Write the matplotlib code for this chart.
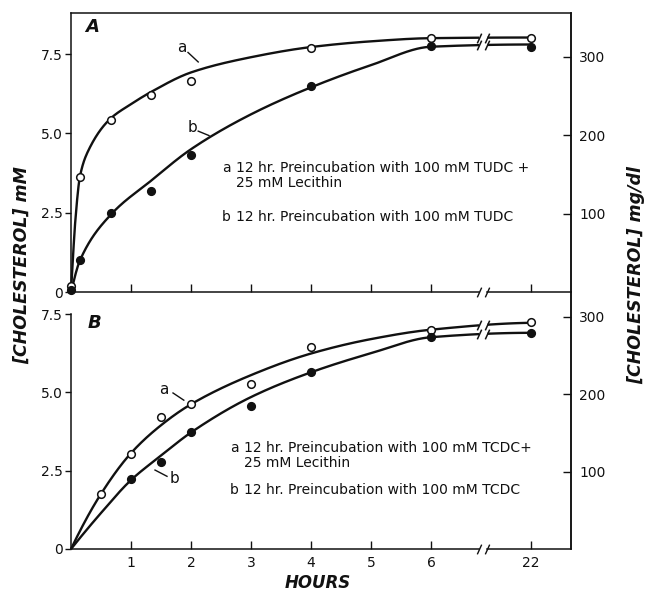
import numpy as np
import matplotlib
matplotlib.use("Agg")
import matplotlib.pyplot as plt
from matplotlib.transforms import blended_transform_factory

# ---------------- data ----------------
# Panel A: preincubation with TUDC (a: + lecithin, b: TUDC alone)
hours_A = [0, 0.15, 0.67, 1.33, 2, 4, 6, 22]
chol_A_a = [0.2, 3.63, 5.43, 6.21, 6.66, 7.70, 8.00, 8.00]
chol_A_b = [0.05, 1.00, 2.50, 3.18, 4.31, 6.49, 7.75, 7.73]

# Panel B: preincubation with TCDC (a: + lecithin, b: TCDC alone)
hours_B_a = [0.5, 1, 1.5, 2, 3, 4, 6, 22]
chol_B_a = [1.76, 3.04, 4.20, 4.62, 5.26, 6.44, 6.99, 7.24]
hours_B_b = [1, 1.5, 2, 3, 4, 6, 22]
chol_B_b = [2.24, 2.79, 3.72, 4.55, 5.64, 6.76, 6.89]

# Hand-drawn smooth curves through the points (knots along each curve)
curve_hours_A_a = [0, 0.03, 0.07, 0.15, 0.3, 0.65, 1.0, 1.33, 2, 3, 4, 5, 6, 22]
curve_A_a = [0, 1.0, 2.2, 3.65, 4.5, 5.45, 5.92, 6.30, 6.92, 7.40, 7.72, 7.90, 8.0, 8.02]
curve_hours_A_b = [0, 0.15, 0.67, 1.33, 2, 3, 4, 5, 6, 22]
curve_A_b = [0, 1.0, 2.45, 3.5, 4.5, 5.6, 6.45, 7.15, 7.73, 7.80]
curve_hours_B = [0, 0.5, 1, 1.5, 2, 3, 4, 5, 6, 22]
curve_B_a = [0, 1.76, 3.06, 3.95, 4.62, 5.55, 6.24, 6.70, 7.00, 7.22]
curve_B_b = [0, 1.15, 2.20, 2.98, 3.72, 4.85, 5.64, 6.25, 6.76, 6.90]

x_ticks_hours = [1, 2, 3, 4, 5, 6, 22]
x_tick_labels = ["1", "2", "3", "4", "5", "6", "22"]
mM_ticks = [0, 2.5, 5.0, 7.5]
mM_tick_labels = ["0", "2.5", "5.0", "7.5"]
mg_ticks = [100, 200, 300]

legend_A = ["12 hr. Preincubation with 100 mM TUDC +", "25 mM Lecithin",
            "12 hr. Preincubation with 100 mM TUDC"]
legend_B = ["12 hr. Preincubation with 100 mM TCDC+", "25 mM Lecithin",
            "12 hr. Preincubation with 100 mM TCDC"]

# ---------------- helpers ----------------
INK = "#111111"
POS_22 = 7.67          # axis position of the 22 h point (scale broken after 6 h)
GAP = (6.80, 6.94)     # axis break
XMAX = 8.333
MG_PER_MM = 40.5


def hour_pos(h):
    h = np.asarray(h, float)
    return np.where(h <= 6, h, 6 + (h - 6) * (POS_22 - 6) / 16.0)


def pchip(x, y, xs):
    x = np.asarray(x, float)
    y = np.asarray(y, float)
    h = np.diff(x)
    d = np.diff(y) / h
    n = len(x)
    m = np.zeros(n)
    for k in range(1, n - 1):
        if d[k - 1] * d[k] > 0:
            w1 = 2 * h[k] + h[k - 1]
            w2 = h[k] + 2 * h[k - 1]
            m[k] = (w1 + w2) / (w1 / d[k - 1] + w2 / d[k])

    def end(h0, h1, d0, d1):
        s = ((2 * h0 + h1) * d0 - h0 * d1) / (h0 + h1)
        if np.sign(s) != np.sign(d0):
            s = 0.0
        elif np.sign(d0) != np.sign(d1) and abs(s) > abs(3 * d0):
            s = 3 * d0
        return s

    m[0] = end(h[0], h[1], d[0], d[1])
    m[-1] = end(h[-1], h[-2], d[-1], d[-2])
    xs = np.asarray(xs, float)
    i = np.clip(np.searchsorted(x, xs) - 1, 0, n - 2)
    t = (xs - x[i]) / h[i]
    h00 = 2 * t**3 - 3 * t**2 + 1
    h10 = t**3 - 2 * t**2 + t
    h01 = -2 * t**3 + 3 * t**2
    h11 = t**3 - t**2
    return h00 * y[i] + h10 * h[i] * m[i] + h01 * y[i + 1] + h11 * h[i] * m[i + 1]


BREAK_MARK = [(-0.45, -1.0), (0.45, 1.0)]


def draw_curve(ax, kh, kv):
    kp = hour_pos(kh)
    f = lambda p: pchip(kp, kv, p)
    left = np.linspace(0, GAP[0], 600)
    right = np.linspace(GAP[1], kp[-1], 60)
    for seg in (left, right):
        ax.plot(seg, f(seg), color=INK, lw=1.7, solid_capstyle="butt", clip_on=False, zorder=3)
    for g in GAP:
        ax.plot([g], f(np.array([g])), marker=BREAK_MARK, ms=7, mew=1.1,
                color=INK, linestyle="none", clip_on=False, zorder=3)
    return f


def draw_points(ax, hrs, vals, filled):
    ax.plot(hour_pos(hrs), vals, linestyle="none", marker="o", ms=5.5,
            mec=INK, mew=1.1, mfc=INK if filled else "white", clip_on=False, zorder=4)


def style_axes(ax, top_panel):
    ax.set_xlim(0, XMAX)
    for s in ax.spines.values():
        s.set_color(INK)
        s.set_linewidth(1.1)
    ax.spines["bottom"].set_visible(False)
    if not top_panel:
        ax.spines["top"].set_visible(False)
        ax.spines["left"].set_bounds(0, 7.5)
    # broken time axis
    tr = blended_transform_factory(ax.transData, ax.transAxes)
    ax.plot([0, GAP[0]], [0, 0], transform=tr, color=INK, lw=1.1, clip_on=False)
    ax.plot([GAP[1], XMAX], [0, 0], transform=tr, color=INK, lw=1.1, clip_on=False)
    for g in GAP:
        ax.plot([g], [0], transform=tr, marker=BREAK_MARK, ms=7, mew=1.0,
                color=INK, linestyle="none", clip_on=False)
    ax.set_xticks(hour_pos(x_ticks_hours))
    ax.set_xticklabels(x_tick_labels)
    ax.tick_params(axis="x", direction="in", length=6, width=1.0, colors=INK,
                   labelsize=10, pad=5, labelbottom=not top_panel)
    ax.set_yticks(mM_ticks)
    ax.set_yticklabels(mM_tick_labels)
    ax.tick_params(axis="y", direction="out", length=4, width=1.0, colors=INK,
                   labelsize=10, pad=2)
    sec = ax.secondary_yaxis("right", functions=(lambda v: v * MG_PER_MM,
                                                 lambda v: v / MG_PER_MM))
    sec.set_yticks(mg_ticks)
    sec.tick_params(direction="in", length=6, width=1.0, colors=INK,
                    labelsize=10, pad=6)
    sec.spines["right"].set_color(INK)
    sec.spines["right"].set_linewidth(1.1)
    ax.set_facecolor("none")


def legend_block(ax, lines, x_letter, x_text, y1, y2, y3, size):
    ax.text(x_letter, y1, "a", fontsize=size, color=INK, va="center", ha="left")
    ax.text(x_text, y1, lines[0], fontsize=size, color=INK, va="center", ha="left")
    ax.text(x_text, y2, lines[1], fontsize=size, color=INK, va="center", ha="left")
    ax.text(x_letter, y3, "b", fontsize=size, color=INK, va="center", ha="left")
    ax.text(x_text, y3, lines[2], fontsize=size, color=INK, va="center", ha="left")


def leader(ax, letter, text_xy, p0, p1):
    ax.text(text_xy[0], text_xy[1], letter, fontsize=11, color=INK, ha="center", va="center")
    ax.plot([p0[0], p1[0]], [p0[1], p1[1]], color=INK, lw=1.0)


# ---------------- figure ----------------
W, H = 646, 592
fig = plt.figure(figsize=(W / 100, H / 100), dpi=100)
fig.patch.set_facecolor("white")

x0, x1 = 71, 571
axA = fig.add_axes([x0 / W, 1 - 292 / H, (x1 - x0) / W, 279 / H])
axB = fig.add_axes([x0 / W, 1 - 549 / H, (x1 - x0) / W, 257 / H])
axA.set_ylim(0, 279 / 31.73)
axB.set_ylim(0, 257 / 31.33)
style_axes(axA, True)
style_axes(axB, False)

# panel A
draw_curve(axA, curve_hours_A_a, curve_A_a)
draw_curve(axA, curve_hours_A_b, curve_A_b)
draw_points(axA, hours_A, chol_A_a, False)
draw_points(axA, hours_A, chol_A_b, True)
axA.text(0.23, 8.35, "A", fontsize=13, fontweight="bold", fontstyle="italic",
         color=INK, va="center", ha="left")
leader(axA, "a", (1.85, 7.70), (1.95, 7.55), (2.12, 7.25))
leader(axA, "b", (2.02, 5.20), (2.12, 5.07), (2.30, 4.93))
legend_block(axA, legend_A, 2.52, 2.75, 3.91, 3.44, 2.36, 10)

# panel B
draw_curve(axB, curve_hours_B, curve_B_a)
draw_curve(axB, curve_hours_B, curve_B_b)
draw_points(axB, hours_B_a, chol_B_a, False)
draw_points(axB, hours_B_b, chol_B_b, True)
axB.text(0.28, 7.2, "B", fontsize=13, fontweight="bold", fontstyle="italic",
         color=INK, va="center", ha="left")
leader(axB, "a", (1.55, 5.10), (1.70, 4.98), (1.88, 4.75))
leader(axB, "b", (1.72, 2.25), (1.40, 2.52), (1.60, 2.32))
legend_block(axB, legend_B, 2.65, 2.88, 3.22, 2.74, 1.88, 10)

# axis titles
fig.text(22 / W, 1 - 265 / H, "[CHOLESTEROL] mM", rotation=90, fontsize=12.5,
         fontweight="bold", fontstyle="italic", color=INK, ha="center", va="center")
fig.text(636 / W, 1 - 275 / H, "[CHOLESTEROL] mg/dl", rotation=90, fontsize=12.5,
         fontweight="bold", fontstyle="italic", color=INK, ha="center", va="center")
fig.text(318 / W, 1 - 583 / H, "HOURS", fontsize=12, fontweight="bold",
         fontstyle="italic", color=INK, ha="center", va="center")

fig.savefig("out.png", dpi=100, facecolor="white")
